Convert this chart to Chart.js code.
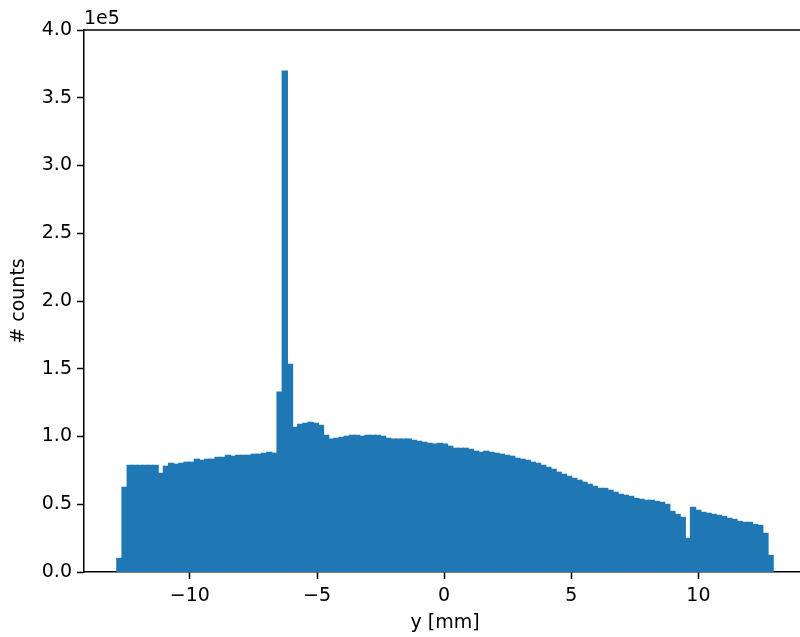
<!DOCTYPE html>
<html>
<head>
<meta charset="utf-8">
<script src="https://cdn.jsdelivr.net/npm/chart.js@4/dist/chart.umd.min.js"></script>
<style>
  html, body { margin: 0; padding: 0; background: #fff; overflow: hidden; }
  canvas { display: block; }
</style>
</head>
<body>
<canvas id="histChart" width="806" height="637"></canvas>
<script>
// histogram range (mm) and counts per bin
const binLo = -12.874
const binHi = 12.941
const counts = [
  10000, 62500, 78700, 78700, 78700, 78700, 78700, 78700, 72800, 78000,
  80200, 79500, 80200, 81000, 81000, 83200, 82400, 83200, 83200, 84600,
  84600, 86100, 85400, 86100, 86100, 86100, 86900, 86900, 87600, 88300,
  87600, 132700, 369700, 153300, 106800, 109000, 109700, 110500, 109700, 108300,
  100900, 98000, 98700, 99400, 100100, 100900, 100900, 100100, 100900, 100900,
  100900, 100100, 98700, 98000, 98000, 98000, 98000, 97200, 96500, 95700,
  95000, 94300, 95000, 94300, 92800, 91300, 91300, 91300, 90500, 89100,
  88300, 89100, 88300, 87600, 86900, 86100, 85400, 83900, 83200, 82400,
  81000, 80200, 78700, 77200, 75800, 73600, 72100, 70600, 69100, 67700,
  66200, 64700, 63200, 61700, 61700, 60300, 58800, 57300, 56600, 55800,
  54300, 53600, 52900, 52900, 52100, 51400, 49900, 44700, 42500, 40300,
  24800, 47700, 45500, 44000, 43300, 42500, 41800, 41000, 39600, 38800,
  37300, 36600, 36600, 35100, 34400, 28500, 12200
]
const xTicks = [-10, -5, 0, 5, 10]
const yTicks = [0, 50000, 100000, 150000, 200000, 250000, 300000, 350000, 400000]
const xLabel = 'y [mm]'
const yLabel = '# counts'
const offsetText = '1e5'

const barColor = '#1f77b4'
const inkColor = '#000000'
const fontFamily = "'DejaVu Sans', sans-serif"

const binWidth = (binHi - binLo) / counts.length
const points = counts.map((c, i) => ({ x: binLo + binWidth * (i + 0.5), y: c }))

// matplotlib-like frame: top/right spines and the 1e5 offset text
const framePlugin = {
  id: 'frame',
  afterDraw(chart) {
    const { ctx, chartArea } = chart
    ctx.save()
    ctx.strokeStyle = inkColor
    ctx.lineWidth = 1.5
    ctx.beginPath()
    ctx.moveTo(chartArea.left, chartArea.top)
    ctx.lineTo(chartArea.right, chartArea.top)
    ctx.lineTo(chartArea.right, chartArea.bottom)
    ctx.stroke()
    ctx.fillStyle = inkColor
    ctx.font = '19px ' + fontFamily
    ctx.textAlign = 'left'
    ctx.textBaseline = 'alphabetic'
    ctx.fillText(offsetText, chartArea.left, chartArea.top - 6)
    ctx.restore()
  },
}

const ctx = document.getElementById('histChart').getContext('2d')
const chart = new Chart(ctx, {
  type: 'bar',
  data: {
    datasets: [
      {
        data: points,
        backgroundColor: barColor,
        borderWidth: 0,
        inflateAmount: 0.6,
        barPercentage: 1,
        categoryPercentage: 1,
      },
    ],
  },
  options: {
    responsive: false,
    animation: false,
    layout: { padding: { top: 30, right: 0, bottom: 0, left: 0 } },
    plugins: {
      legend: { display: false },
      tooltip: { enabled: false },
    },
    scales: {
      x: {
        type: 'linear',
        min: -14.165,
        max: 14.232,
        offset: false,
        afterBuildTicks: function (scale) {
          scale.ticks = xTicks.map(v => ({ value: v }))
        },
        afterFit: function (scale) {
          scale.height = 65
        },
        grid: {
          display: true,
          drawOnChartArea: false,
          drawTicks: true,
          tickLength: 7,
          tickWidth: 1.5,
          tickColor: inkColor,
          offset: false,
        },
        border: { display: true, color: inkColor, width: 1.5 },
        ticks: {
          color: inkColor,
          padding: 6,
          maxRotation: 0,
          font: { family: fontFamily, size: 19 },
          callback: function (value) {
            return value < 0 ? '\u2212' + Math.abs(value) : String(value)
          },
        },
        title: {
          display: true,
          text: xLabel,
          color: inkColor,
          font: { family: fontFamily, size: 19 },
          padding: { top: 0, bottom: 3 },
        },
      },
      y: {
        min: 0,
        max: 400000,
        afterBuildTicks: function (scale) {
          scale.ticks = yTicks.map(v => ({ value: v }))
        },
        afterFit: function (scale) {
          scale.width = 84
        },
        grid: {
          display: true,
          drawOnChartArea: false,
          drawTicks: true,
          tickLength: 7,
          tickWidth: 1.5,
          tickColor: inkColor,
        },
        border: { display: true, color: inkColor, width: 1.5 },
        ticks: {
          color: inkColor,
          padding: 5,
          font: { family: fontFamily, size: 19 },
          callback: function (value) {
            return (value / 1e5).toFixed(1)
          },
        },
        title: {
          display: true,
          text: yLabel,
          color: inkColor,
          font: { family: fontFamily, size: 19 },
          padding: { top: 8, bottom: 0 },
        },
      },
    },
  },
  plugins: [framePlugin],
})
</script>
</body>
</html>
